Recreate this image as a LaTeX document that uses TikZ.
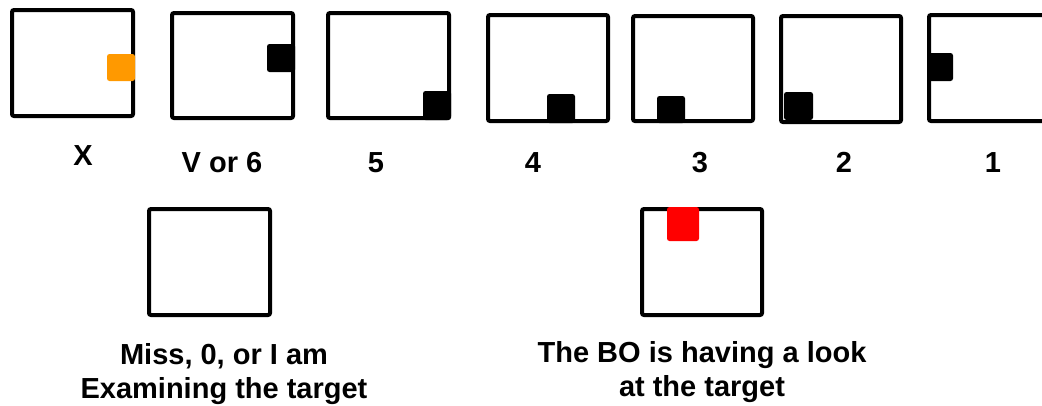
\documentclass[tikz,border=0pt]{standalone}
\usepackage{fontspec}
\newfontfamily\lblfont{Liberation Sans}
\definecolor{hitorange}{RGB}{255,153,0}
\definecolor{bored}{RGB}{255,0,0}

\begin{document}
\begin{tikzpicture}[
	x=1pt, y=-1pt,
	frame/.style={draw=black, line width=4pt, rounded corners=2pt},
	blob/.style={fill=black, rounded corners=2.5pt},
	lbl/.style={font=\lblfont\bfseries\fontsize{29}{34}\selectfont, inner sep=0pt, align=center}]
	\clip (0,0) rectangle (1042,405);
	%\draw [help lines] (0,0) grid (1042,405);
	% top row
	\draw [frame] (12,10) rectangle (133,116);
	\draw [frame] (172,13) rectangle (293,118);
	\draw [frame] (328,13) rectangle (449,118);
	\draw [frame] (488,15) rectangle (608,121);
	\draw [frame] (633,16) rectangle (753,121);
	\draw [frame] (781,16) rectangle (901,122);
	\draw [frame] (929,15) rectangle (1050,121);
	\fill [blob, hitorange] (107,54) rectangle (135,81);
	\fill [blob] (267,44) rectangle (295,72);
	\fill [blob] (423,91) rectangle (451,120);
	\fill [blob] (547,94) rectangle (575,123);
	\fill [blob] (657,96) rectangle (685,123);
	\fill [blob] (784,92) rectangle (813,120);
	\fill [blob] (927,53) rectangle (953,81);
	\node [lbl, anchor=base] (lX) at (83,165) {X};
	\node [lbl, anchor=base] (lV) at (222,172) {V or 6};
	\node [lbl, anchor=base] (l5) at (376,172) {5};
	\node [lbl, anchor=base] (l4) at (533,172) {4};
	\node [lbl, anchor=base] (l3) at (700,172) {3};
	\node [lbl, anchor=base] (l2) at (844,172) {2};
	\node [lbl, anchor=base] (l1) at (993,172) {1};
	% bottom row
	\draw [frame] (149,209) rectangle (270,315);
	\draw [frame] (642,209) rectangle (762,315);
	\fill [blob, bored] (667,207) rectangle (699,241);
	\node [lbl, anchor=north] (lMiss) at (224,343) {Miss, 0, or I am\\Examining the target};
	\node [lbl, anchor=north] (lBO) at (702,341) {The BO is having a look\\at the target};
\end{tikzpicture}
\end{document}
